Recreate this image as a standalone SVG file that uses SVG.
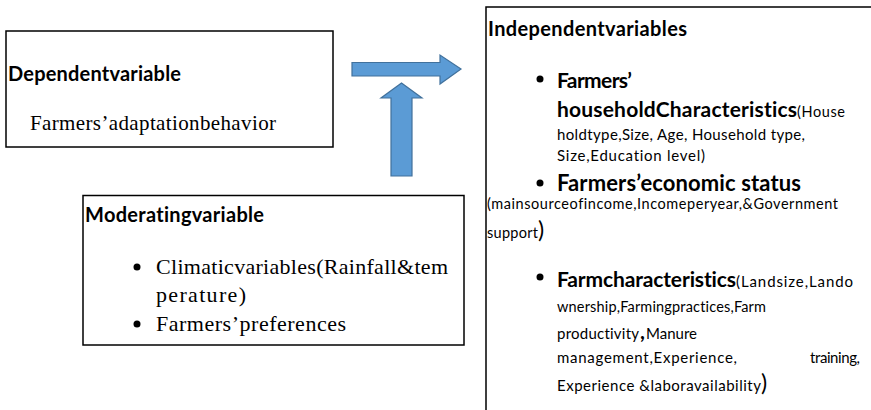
<svg xmlns="http://www.w3.org/2000/svg" width="871" height="410" viewBox="0 0 871 410">
  <style>
    .box { fill: #ffffff; stroke: #000000; stroke-width: 1.5; }
    .arrow { fill: #5b9bd5; stroke: #41719c; stroke-width: 1.2; }
    .hd { font-family: Lato, "Liberation Sans", sans-serif; font-weight: bold; fill: #000; font-variant-ligatures: none; }
    .sn { font-family: Lato, "Liberation Sans", sans-serif; fill: #000; font-variant-ligatures: none; }
    .sr { font-family: "Liberation Serif", "Times New Roman", serif; fill: #000; }
    .dot { fill: #000; }
  </style>
  <rect width="871" height="410" fill="#ffffff"/>

  <!-- Connectors: block arrows -->
  <g id="connectors">
    <path class="arrow" d="M352,62.5 H440 V55 L461,69 L440,84 V76 H352 Z"/>
    <path class="arrow" d="M391,176 V98 H381 L401.5,83 L422,98 H412 V176 Z"/>
  </g>

  <!-- Dependent variable -->
  <g id="dependent">
    <rect class="box" x="6" y="31" width="327" height="116"/>
    <text class="hd" x="8" y="81" font-size="20" textLength="173">Dependentvariable</text>
    <text class="sr" x="30" y="130" font-size="21" textLength="246">Farmers’adaptationbehavior</text>
  </g>

  <!-- Moderating variable -->
  <g id="moderating">
    <rect class="box" x="83" y="195.5" width="381" height="149.5"/>
    <text class="hd" x="85" y="222" font-size="20" textLength="179">Moderatingvariable</text>
    <circle class="dot" cx="137" cy="267" r="3.5"/>
    <text class="sr" x="156" y="274" font-size="22" textLength="292">Climaticvariables(Rainfall&amp;tem</text>
    <text class="sr" x="156" y="302" font-size="22" textLength="90">perature)</text>
    <circle class="dot" cx="137" cy="324" r="3.5"/>
    <text class="sr" x="156" y="331" font-size="22" textLength="190">Farmers’preferences</text>
  </g>

  <!-- Independent variables -->
  <g id="independent">
    <rect class="box" x="486" y="7" width="400" height="420"/>
    <text class="hd" x="488" y="36" font-size="20" textLength="199">Independentvariables</text>

    <circle class="dot" cx="540" cy="79" r="3.5"/>
    <text class="hd" x="557" y="88" font-size="21" textLength="75">Farmers’</text>
    <text x="557" y="117"><tspan class="hd" font-size="21" textLength="240">householdCharacteristics</tspan><tspan class="sn" x="797" font-size="14.5" textLength="48">(House</tspan></text>
    <text class="sn" x="557" y="140" font-size="15" textLength="248">holdtype,Size, Age, Household type,</text>
    <text class="sn" x="557" y="161" font-size="15" textLength="148">Size,Education level)</text>

    <circle class="dot" cx="540" cy="183" r="3.5"/>
    <text class="hd" x="557" y="191" font-size="22" textLength="244">Farmers’economic  status</text>
    <text class="sn" x="487" y="209" font-size="14.5" textLength="351">(mainsourceofincome,Incomeperyear,&amp;Government</text>
    <text x="487" y="238"><tspan class="sn" font-size="14.5" textLength="51">support</tspan><tspan class="sn" x="538" font-size="23">)</tspan></text>

    <circle class="dot" cx="540" cy="277" r="3.5"/>
    <text x="557" y="287"><tspan class="hd" font-size="21" textLength="179">Farmcharacteristics</tspan><tspan class="sn" x="736" font-size="15" textLength="117">(Landsize,Lando</tspan></text>
    <text class="sn" x="557" y="312" font-size="14.5" textLength="209">wnership,Farmingpractices,Farm</text>
    <text x="557" y="339"><tspan class="sn" font-size="15" textLength="82">productivity</tspan><tspan class="hd" x="640" font-size="21">,</tspan><tspan class="sn" x="646" font-size="15">Manure</tspan></text>
    <text x="557" y="363"><tspan class="sn" font-size="15" textLength="180">management,Experience,</tspan><tspan class="sn" x="810" font-size="15" textLength="50">training,</tspan></text>
    <text x="557" y="391"><tspan class="sn" font-size="15" textLength="204">Experience &amp;laboravailability</tspan><tspan class="sn" x="761" font-size="23">)</tspan></text>
  </g>
</svg>
